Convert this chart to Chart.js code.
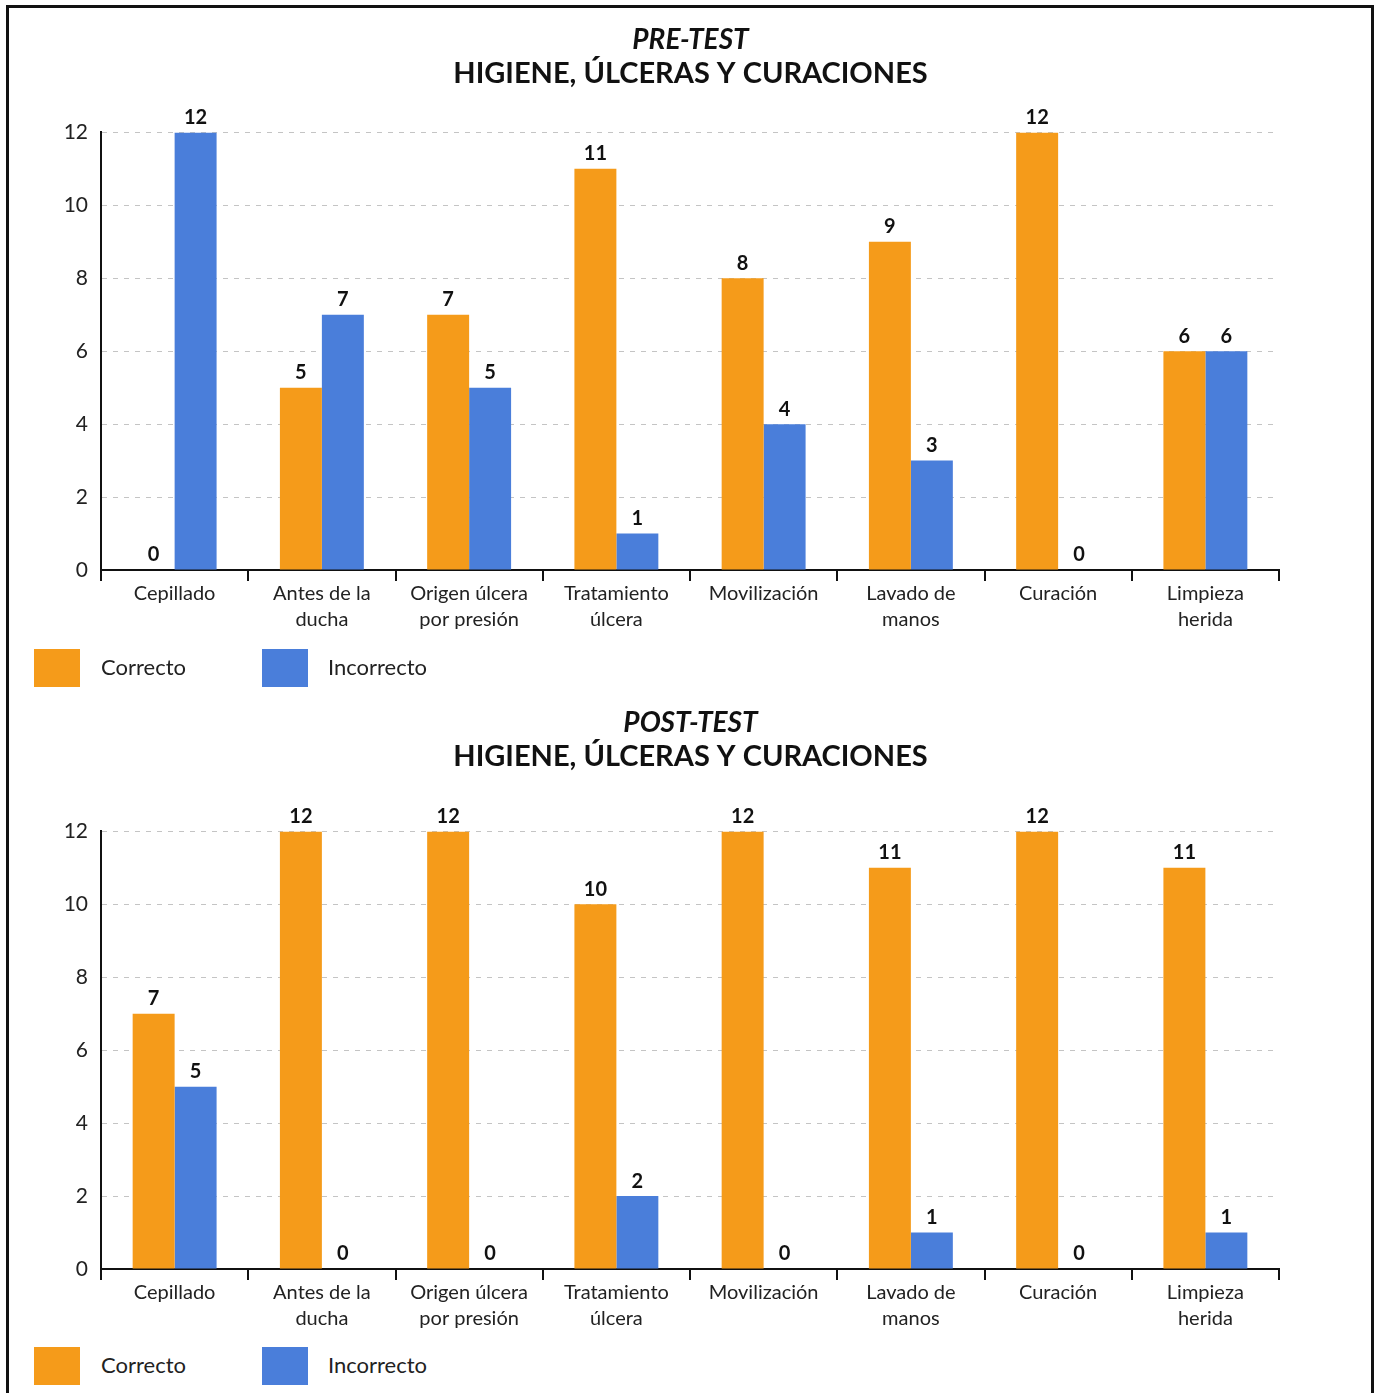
<!DOCTYPE html>
<html>
<head>
<meta charset="utf-8">
<script src="https://cdn.jsdelivr.net/npm/chart.js@4.4.1/dist/chart.umd.min.js"></script>
<style>
  body { margin: 0; background: #fff; width: 1381px; height: 1393px; overflow: hidden; position: relative; font-family: Lato, "Open Sans", sans-serif; }
  .frame { position: absolute; left: 6px; top: 5px; width: 1368px; height: 1420px; border: 3px solid #111; box-sizing: border-box; }
  canvas { position: absolute; left: 0; }
  .legend-box { position: absolute; width: 46px; height: 38px; }
  .legend-text { position: absolute; font-size: 22px; color: #222; line-height: 36px; }
</style>
</head>
<body>
<div class="frame"></div>
<canvas id="preChart" width="1381" height="640" style="top:0px"></canvas>
<canvas id="postChart" width="1381" height="656" style="top:683px"></canvas>

<div class="legend-box" style="left:34px;top:649px;background:#F59B1A"></div>
<div class="legend-text" style="left:101px;top:649px">Correcto</div>
<div class="legend-box" style="left:262px;top:649px;background:#4A7EDA"></div>
<div class="legend-text" style="left:328px;top:649px">Incorrecto</div>

<div class="legend-box" style="left:34px;top:1347px;background:#F59B1A"></div>
<div class="legend-text" style="left:101px;top:1347px">Correcto</div>
<div class="legend-box" style="left:262px;top:1347px;background:#4A7EDA"></div>
<div class="legend-text" style="left:328px;top:1347px">Incorrecto</div>

<script>
const categories = [
  ['Cepillado'],
  ['Antes de la', 'ducha'],
  ['Origen úlcera', 'por presión'],
  ['Tratamiento', 'úlcera'],
  ['Movilización'],
  ['Lavado de', 'manos'],
  ['Curación'],
  ['Limpieza', 'herida']
];
const preCorrecto = [0, 5, 7, 11, 8, 9, 12, 6];
const preIncorrecto = [12, 7, 5, 1, 4, 3, 0, 6];
const postCorrecto = [7, 12, 12, 10, 12, 11, 12, 11];
const postIncorrecto = [5, 0, 0, 2, 0, 1, 0, 1];
const yMax = 12;
const yStep = 2;

const orange = '#F59B1A';
const blue = '#4A7EDA';
const fontFamily = 'Lato, "Open Sans", sans-serif';

// numbers above the bars
const valueLabels = {
  id: 'valueLabels',
  afterDatasetsDraw(chart) {
    const ctx = chart.ctx;
    ctx.save();
    ctx.font = 'bold 20px ' + fontFamily;
    ctx.fillStyle = '#111';
    ctx.textAlign = 'center';
    ctx.textBaseline = 'middle';
    chart.data.datasets.forEach((ds, i) => {
      chart.getDatasetMeta(i).data.forEach((bar, j) => {
        ctx.fillText(String(ds.data[j]), bar.x, bar.y - 15);
      });
    });
    ctx.restore();
  }
};

function makeChart(id, title, correcto, incorrecto, extraGap) {
  return new Chart(document.getElementById(id), {
    type: 'bar',
    data: {
      labels: categories,
      datasets: [
        { label: 'Correcto', data: correcto, backgroundColor: orange },
        { label: 'Incorrecto', data: incorrecto, backgroundColor: blue }
      ]
    },
    options: {
      responsive: false,
      animation: false,
      devicePixelRatio: 1,
      layout: { padding: { top: 16, left: 0, right: 0, bottom: 7 } },
      datasets: {
        bar: { categoryPercentage: 0.57, barPercentage: 1.0 }
      },
      plugins: {
        legend: { display: false },
        tooltip: { enabled: false },
        title: {
          display: true,
          text: title,
          color: '#111',
          font: { family: fontFamily, size: 28, weight: 'bold', style: 'italic' },
          padding: { top: 7, bottom: 0 }
        },
        subtitle: {
          display: true,
          text: 'HIGIENE, ÚLCERAS Y CURACIONES',
          color: '#111',
          font: { family: fontFamily, size: 29, weight: 'bold' },
          padding: { top: 0, bottom: 41 + extraGap }
        }
      },
      scales: {
        x: {
          grid: {
            display: true,
            drawOnChartArea: false,
            drawTicks: true,
            tickLength: 11,
            color: '#111',
            lineWidth: 2,
            offset: true
          },
          border: { display: true, color: '#111', width: 2 },
          ticks: {
            color: '#222',
            padding: 0,
            maxRotation: 0,
            autoSkip: false,
            font: { family: fontFamily, size: 20, lineHeight: 1.3 }
          }
        },
        y: {
          min: 0,
          max: yMax,
          afterFit(scale) { scale.width = 101; },
          ticks: {
            stepSize: yStep,
            color: '#222',
            padding: 13,
            font: { family: fontFamily, size: 21 }
          },
          grid: { color: '#c4c4c4', lineWidth: 1, drawTicks: false },
          border: { display: true, color: '#111', width: 2, dash: [5, 6] }
        },
        // empty right-hand axis: keeps the plot away from the right edge
        // while the titles stay centred on the whole page
        yRight: {
          position: 'right',
          min: 0,
          max: yMax,
          afterFit(scale) { scale.width = 102; },
          ticks: { display: false },
          grid: { display: false, drawOnChartArea: false },
          border: { display: false }
        }
      }
    },
    plugins: [valueLabels]
  });
}

makeChart('preChart', 'PRE-TEST', preCorrecto, preIncorrecto, 0);
makeChart('postChart', 'POST-TEST', postCorrecto, postIncorrecto, 16);
</script>
</body>
</html>
